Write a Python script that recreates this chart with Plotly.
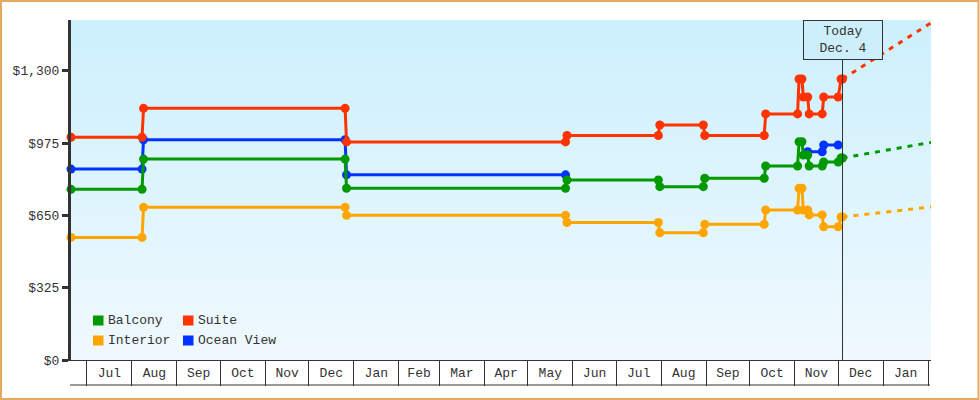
import plotly.graph_objects as go

# ---- price history (USD) per cabin type ----
suite_dates = ["2013-06-20", "2013-08-08", "2013-08-09", "2013-12-26", "2013-12-27",
               "2014-05-27", "2014-05-28", "2014-07-30", "2014-07-31", "2014-08-30",
               "2014-08-31", "2014-10-11", "2014-10-12", "2014-11-03", "2014-11-04",
               "2014-11-06", "2014-11-07", "2014-11-10", "2014-11-11", "2014-11-20",
               "2014-11-21", "2014-12-01", "2014-12-03", "2014-12-04"]
suite_prices = [1001, 1001, 1131, 1131, 980,
                980, 1009, 1009, 1056, 1056,
                1009, 1009, 1106, 1106, 1263,
                1263, 1182, 1182, 1106, 1106,
                1182, 1182, 1263, 1263]

balcony_dates = suite_dates
balcony_prices = [767, 767, 903, 903, 772,
                  772, 809, 809, 779, 779,
                  817, 817, 872, 872, 981,
                  981, 921, 921, 872, 872,
                  890, 890, 908, 908]

interior_dates = suite_dates
interior_prices = [551, 551, 686, 686, 650,
                   650, 618, 618, 572, 572,
                   610, 610, 674, 674, 772,
                   772, 674, 674, 652, 652,
                   599, 599, 643, 643]

ocean_dates = ["2013-06-20", "2013-08-08", "2013-08-09", "2013-12-26", "2013-12-27",
               "2014-05-27", "2014-08-01", "2014-11-10", "2014-11-20", "2014-11-21",
               "2014-12-01"]
ocean_prices = [858, 858, 990, 990, 832,
                832, None, 936, 936, 966,
                966]

# projected prices from today to the end of the window
forecast_dates = ["2014-12-04", "2015-02-03"]
suite_forecast = [1263, 1515]
balcony_forecast = [908, 978]
interior_forecast = [643, 688]

today = "2014-12-04"
today_label = "Today<br>Dec. 4"
x_range = ["2013-06-20", "2015-02-03"]
y_max = 1528
y_ticks = [0, 325, 650, 975, 1300]
y_tick_labels = ["$0", "$325", "$650", "$975", "$1,300"]

colors = {"Balcony": "#009900", "Suite": "#ff3300",
          "Interior": "#ffa500", "Ocean View": "#0033ff"}
FONT = "Liberation Mono"
INK = "#333333"

# page geometry (px)
W, H = 980, 400
L, R, T, B = 71, 931, 20, 360


def px_x(px):
    return (px - L) / (R - L)


def px_y(py):
    return (B - py) / (B - T)


fig = go.Figure()

# sky gradient behind the plot
fig.add_trace(go.Scatter(
    x=[x_range[0], x_range[1], x_range[1], x_range[0]],
    y=[0, 0, y_max, y_max],
    mode="lines", line=dict(width=0), fill="toself",
    fillgradient=dict(type="vertical",
                      colorscale=[[0, "#f0f9fe"], [1, "#ccf0fc"]]),
    hoverinfo="skip", showlegend=False))

series = [
    ("Ocean View", ocean_dates, ocean_prices),
    ("Interior", interior_dates, interior_prices),
    ("Balcony", balcony_dates, balcony_prices),
    ("Suite", suite_dates, suite_prices),
]
forecasts = [
    ("Interior", interior_forecast),
    ("Balcony", balcony_forecast),
    ("Suite", suite_forecast),
]

for name, fc in forecasts:
    fig.add_trace(go.Scatter(
        x=forecast_dates, y=fc, mode="lines",
        line=dict(color=colors[name], width=3, dash="5px,6px"),
        showlegend=False, hoverinfo="skip", cliponaxis=True))

for name, xs, ys in series:
    fig.add_trace(go.Scatter(
        x=xs, y=ys, mode="lines+markers", name=name,
        line=dict(color=colors[name], width=3),
        marker=dict(color=colors[name], size=9, symbol="circle"),
        showlegend=False, cliponaxis=False))

shapes = []
annotations = []

# today marker: vertical rule up to the label box
shapes.append(dict(type="line", xref="x", yref="paper", x0=today, x1=today,
                   y0=0, y1=px_y(60), line=dict(color=INK, width=1)))
annotations.append(dict(
    x=today, y=1, xref="x", yref="paper", xanchor="center", yanchor="top",
    text=today_label, showarrow=False, align="center",
    font=dict(family=FONT, size=13, color=INK),
    bgcolor="#cdeffb", bordercolor=INK, borderwidth=1, borderpad=0,
    width=78, height=38))

# month band bottom rule
shapes.append(dict(type="line", xref="paper", yref="paper",
                   x0=px_x(70), x1=px_x(930), y0=px_y(385), y1=px_y(385),
                   line=dict(color=INK, width=1)))

# outer frame
shapes.append(dict(type="rect", xref="paper", yref="paper",
                   x0=px_x(1), x1=px_x(978.5), y0=px_y(399), y1=px_y(1),
                   line=dict(color="#e8a862", width=2), fillcolor="rgba(0,0,0,0)",
                   layer="below"))

# legend: two columns of colour swatches
legend_items = [("Balcony", 0, 0), ("Suite", 1, 0),
                ("Interior", 0, 1), ("Ocean View", 1, 1)]
col_x = [93, 183]
row_y = [320.5, 340.5]
for name, c, r in legend_items:
    x0 = col_x[c]
    yc = row_y[r]
    shapes.append(dict(type="rect", xref="paper", yref="paper",
                       x0=px_x(x0), x1=px_x(x0 + 10.5),
                       y0=px_y(yc + 5), y1=px_y(yc - 5),
                       line=dict(width=0), fillcolor=colors[name]))
    annotations.append(dict(
        x=px_x(x0 + 13), y=px_y(yc), xref="paper", yref="paper",
        xanchor="left", yanchor="middle", text=name, showarrow=False,
        font=dict(family=FONT, size=13, color=INK)))

fig.update_layout(
    width=W, height=H,
    margin=dict(l=L, r=W - R, t=T, b=H - B),
    paper_bgcolor="white", plot_bgcolor="white",
    font=dict(family=FONT, size=13, color=INK),
    shapes=shapes, annotations=annotations,
    showlegend=False,
    xaxis=dict(
        type="date", range=x_range,
        tick0="2013-07-01", dtick="M1", tickformat="%b",
        ticklabelmode="period", ticks="outside", ticklen=25,
        tickwidth=1, tickcolor=INK, ticklabelstandoff=-25,
        showgrid=False, zeroline=False,
        showline=True, linecolor=INK, linewidth=1,
        tickfont=dict(family=FONT, size=13, color=INK)),
    yaxis=dict(
        range=[0, y_max], tickmode="array", tickvals=y_ticks,
        ticktext=y_tick_labels,
        ticks="outside", ticklen=6, tickwidth=3, tickcolor=INK,
        showgrid=False, zeroline=False,
        showline=True, linecolor=INK, linewidth=3,
        tickfont=dict(family=FONT, size=13, color=INK)),
)

fig.write_html("out.html")
